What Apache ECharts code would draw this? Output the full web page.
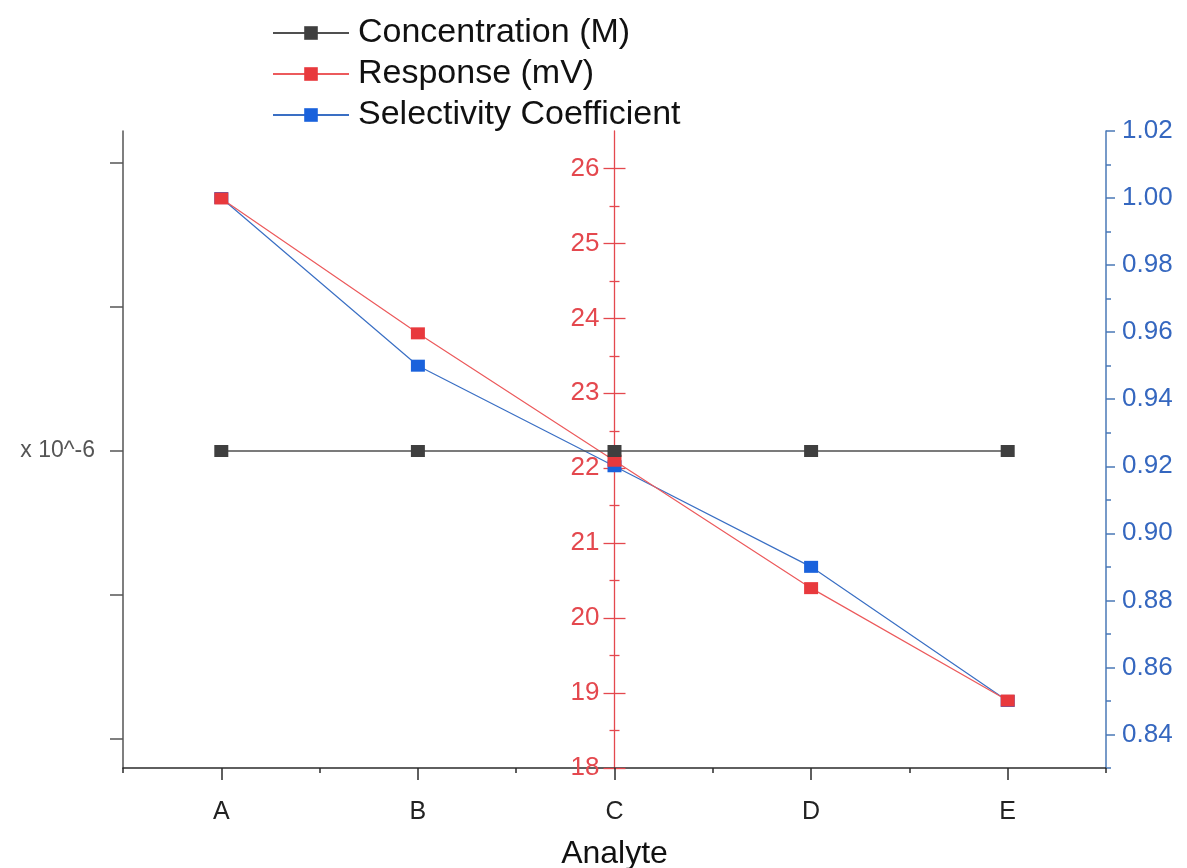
<!DOCTYPE html>
<html>
<head>
<meta charset="utf-8">
<title>Analyte response</title>
<script src="https://cdn.jsdelivr.net/npm/echarts@6/dist/echarts.min.js"></script>
<style>
  html, body { margin: 0; padding: 0; background: #ffffff; }
  #chart { width: 1187px; height: 868px; }
</style>
</head>
<body>
<div id="chart"></div>
<script>
// Analytes on the x axis
const categories = ['A', 'B', 'C', 'D', 'E'];

// Series values
const concentration = [1e-6, 1e-6, 1e-6, 1e-6, 1e-6];        // M
const response = [25.6, 23.8, 22.1, 20.4, 18.9];              // mV
const selectivity = [1.00, 0.95, 0.92, 0.89, 0.85];

// Tick positions per axis
const concentrationTicks = [0.8e-6, 0.9e-6, 1.0e-6, 1.1e-6, 1.2e-6];
const concentrationLabelTicks = [1.0e-6];
const responseTicks = [18, 19, 20, 21, 22, 23, 24, 25, 26];
const responseMinorTicks = [18.5, 19.5, 20.5, 21.5, 22.5, 23.5, 24.5, 25.5];
const selectivityTicks = [0.84, 0.86, 0.88, 0.90, 0.92, 0.94, 0.96, 0.98, 1.00, 1.02];
const selectivityMinorTicks = [0.83, 0.85, 0.87, 0.89, 0.91, 0.93, 0.95, 0.97, 0.99, 1.01];

const FONT = "'Liberation Sans', Arial, Helvetica, sans-serif";
const BLACK = '#3f3f3f';
const RED = '#e8393d';
const RED_AXIS = '#e4484e';
const BLUE = '#1a62dc';
const BLUE_AXIS = '#4a78b6';
const BLUE_TEXT = '#3567bf';

const concRange = { min: 0.7799e-6, max: 1.2222e-6 };
const respRange = { min: 18, max: 26.5 };
const selRange = { min: 0.83, max: 1.02 };

const grid = { left: 123, right: 81, top: 131, bottom: 100, outerBoundsMode: 'none' };
// Middle axis sits on category C
const midOffset = -(1187 - grid.left - grid.right) / 2;

function baseY(extra) {
  return Object.assign({
    type: 'value',
    splitLine: { show: false },
    minorTick: { show: false }
  }, extra);
}

const chart = echarts.init(document.getElementById('chart'), null, { renderer: 'canvas' });

chart.setOption({
  backgroundColor: '#ffffff',
  animation: false,
  textStyle: { fontFamily: FONT },
  grid: grid,
  legend: {
    orient: 'vertical',
    left: 272,
    top: 16,
    padding: 0,
    itemWidth: 76,
    itemHeight: 17,
    itemGap: 7,
    textStyle: { fontFamily: FONT, fontSize: 34, color: '#111', lineHeight: 34, padding: [0, 0, 0, 4] },
    data: ['Concentration (M)', 'Response (mV)', 'Selectivity Coefficient']
  },
  xAxis: [
    {
      type: 'category',
      data: categories,
      boundaryGap: true,
      name: 'Analyte',
      nameLocation: 'middle',
      nameGap: 70,
      nameTextStyle: { fontFamily: FONT, fontSize: 32, color: '#111' },
      axisLine: { show: true, lineStyle: { color: '#2b2b2b', width: 1.5 } },
      axisTick: { show: true, alignWithLabel: true, length: 12, lineStyle: { color: '#2b2b2b', width: 1.5 } },
      axisLabel: { fontFamily: FONT, fontSize: 25, color: '#222', margin: 32 },
      splitLine: { show: false }
    },
    {
      type: 'category',
      data: categories,
      boundaryGap: true,
      position: 'bottom',
      axisLine: { show: false },
      axisTick: { show: true, alignWithLabel: false, length: 5, lineStyle: { color: '#2b2b2b', width: 1.5 } },
      axisLabel: { show: false },
      splitLine: { show: false }
    }
  ],
  yAxis: [
    // Concentration axis (left)
    baseY({
      position: 'left',
      min: concRange.min,
      max: concRange.max,
      axisLine: { show: true, lineStyle: { color: '#555', width: 1.5 } },
      axisTick: { show: true, length: 13, customValues: concentrationTicks, lineStyle: { color: '#555', width: 1.5 } },
      axisLabel: {
        customValues: concentrationLabelTicks,
        formatter: function () { return 'x 10^-6'; },
        fontFamily: FONT, fontSize: 23, color: '#555', margin: 28
      }
    }),
    // Response axis on category C, ticks outward with labels
    baseY({
      position: 'left',
      offset: midOffset,
      min: respRange.min,
      max: respRange.max,
      axisLine: { show: true, lineStyle: { color: RED_AXIS, width: 1.3 } },
      axisTick: { show: true, length: 11, customValues: responseTicks, lineStyle: { color: RED_AXIS, width: 1.3 } },
      axisLabel: {
        customValues: responseTicks,
        fontFamily: FONT, fontSize: 26, color: RED_AXIS, margin: 15
      }
    }),
    // Response axis, inward half of the major ticks
    baseY({
      position: 'left',
      offset: midOffset,
      min: respRange.min,
      max: respRange.max,
      axisLine: { show: false },
      axisTick: { show: true, inside: true, length: 11, customValues: responseTicks, lineStyle: { color: RED_AXIS, width: 1.3 } },
      axisLabel: { show: false }
    }),
    // Response axis minor ticks, outward
    baseY({
      position: 'left',
      offset: midOffset,
      min: respRange.min,
      max: respRange.max,
      axisLine: { show: false },
      axisTick: { show: true, length: 5, customValues: responseMinorTicks, lineStyle: { color: RED_AXIS, width: 1.3 } },
      axisLabel: { show: false }
    }),
    // Response axis minor ticks, inward
    baseY({
      position: 'left',
      offset: midOffset,
      min: respRange.min,
      max: respRange.max,
      axisLine: { show: false },
      axisTick: { show: true, inside: true, length: 5, customValues: responseMinorTicks, lineStyle: { color: RED_AXIS, width: 1.3 } },
      axisLabel: { show: false }
    }),
    // Selectivity axis (right)
    baseY({
      position: 'right',
      min: selRange.min,
      max: selRange.max,
      axisLine: { show: true, lineStyle: { color: BLUE_AXIS, width: 1.5 } },
      axisTick: { show: true, length: 9, customValues: selectivityTicks, lineStyle: { color: BLUE_AXIS, width: 1.5 } },
      axisLabel: {
        customValues: selectivityTicks,
        formatter: function (v) { return v.toFixed(2); },
        fontFamily: FONT, fontSize: 26, color: BLUE_TEXT, margin: 16
      }
    }),
    // Selectivity minor ticks
    baseY({
      position: 'right',
      min: selRange.min,
      max: selRange.max,
      axisLine: { show: false },
      axisTick: { show: true, length: 5, customValues: selectivityMinorTicks, lineStyle: { color: BLUE_AXIS, width: 1.5 } },
      axisLabel: { show: false }
    })
  ],
  series: [
    {
      name: 'Concentration (M)',
      type: 'line',
      xAxisIndex: 0,
      yAxisIndex: 0,
      data: concentration,
      symbol: 'rect',
      symbolSize: [14, 12],
      z: 5,
      itemStyle: { color: BLACK },
      lineStyle: { color: '#505050', width: 1.3 }
    },
    {
      name: 'Response (mV)',
      type: 'line',
      xAxisIndex: 0,
      yAxisIndex: 1,
      data: response,
      symbol: 'rect',
      symbolSize: [14, 12],
      z: 4,
      itemStyle: { color: RED },
      lineStyle: { color: '#ec5a5c', width: 1.2 }
    },
    {
      name: 'Selectivity Coefficient',
      type: 'line',
      xAxisIndex: 0,
      yAxisIndex: 5,
      data: selectivity,
      symbol: 'rect',
      symbolSize: [14, 12],
      z: 3,
      itemStyle: { color: BLUE },
      lineStyle: { color: '#3a6fc4', width: 1.2 }
    }
  ]
});
</script>
</body>
</html>
